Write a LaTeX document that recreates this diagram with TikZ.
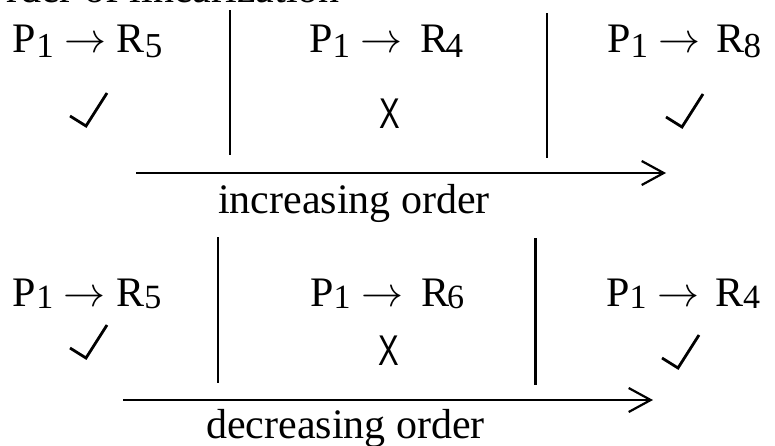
\documentclass[tikz,border=0pt]{standalone}
\usepackage{fix-cm}
\usepackage{fontspec}
\setmainfont{Liberation Serif}
\newfontfamily\xsans{Liberation Sans}
\usetikzlibrary{arrows.meta}
\newcommand\subA[1]{\raisebox{-5pt}{\fontsize{35}{35}\selectfont #1}}
\newcommand\subB[1]{\raisebox{-2pt}{\fontsize{34}{34}\selectfont #1}}
\newcommand\arr{$\rightarrow$}
\begin{document}
\begin{tikzpicture}[x=1pt,y=-1pt,
  lab/.style={inner sep=0pt, anchor=base west, font=\fontsize{42}{42}\selectfont},
  xmark/.style={inner sep=0pt, anchor=base, font=\xsans\fontsize{43}{43}\selectfont},
  sep/.style={line width=2.6pt},
  axis/.style={line width=2.2pt, -{Straight Barb[length=22pt,width=24pt,line width=2.2pt]}},
  chk/.style={line width=2.8pt, line join=miter},
  pics/tick/.style={code={\draw[chk] (-16,-10) -- (0,0) -- (21,-33);}}
]
\useasboundingbox (0,0) rectangle (775,445);
\begin{scope}
\clip (0,0) rectangle (775,445);
\node[inner sep=0pt, anchor=base east, font=\fontsize{42}{42}\selectfont] (title) at (340,2) {Order of linearization};
\end{scope}

% top block
\node[lab] (a1) at (12.7,52) {P\subA{1} \arr{} R\subA{5}};
\node[lab] (a2) at (309,52) {P\subA{1} \arr\hspace{18pt}R\hspace{-3pt}\subA{4}};
\node[lab] (a3) at (607,52) {P\subA{1} \arr\hspace{16pt}R\hspace{-1pt}\subA{8}};
\pic (t1) at (86,126) {tick};
\node[xmark] (x1) at (389.5,128) {\scalebox{0.72}[1]{X}};
\pic (t2) at (682,127) {tick};
\coordinate (l1a) at (230,10);
\coordinate (l1b) at (230,155);
\coordinate (l2a) at (547,13);
\coordinate (l2b) at (547,158);
\draw[sep] (l1a) -- (l1b);
\draw[sep] (l2a) -- (l2b);
\coordinate (s1) at (136,173);
\coordinate (e1) at (666,173);
\draw[axis] (s1) -- (e1);
\node[lab] (inc) at (218,213) {increasing order};

% bottom block
\node[lab] (b1) at (12.7,306) {P\subB{1} \arr{} R\subB{5}};
\node[lab] (b2) at (310,306) {P\subB{1} \arr\hspace{18pt}R\hspace{-2pt}\subB{6}};
\node[lab] (b3) at (606,306) {P\subB{1} \arr\hspace{16pt}R\subB{4}};
\pic (t3) at (86,358) {tick};
\node[xmark] (x2) at (389,365) {\scalebox{0.72}[1]{X}};
\pic (t4) at (678,368) {tick};
\coordinate (m1a) at (218,237);
\coordinate (m1b) at (218,383);
\coordinate (m2a) at (535.5,238);
\coordinate (m2b) at (535.5,385);
\draw[sep] (m1a) -- (m1b);
\draw[sep] (m2a) -- (m2b);
\coordinate (s2) at (123,400);
\coordinate (e2) at (653,400);
\draw[axis] (s2) -- (e2);
\node[lab] (dec) at (206,438) {decreasing order};
\end{tikzpicture}
\end{document}
